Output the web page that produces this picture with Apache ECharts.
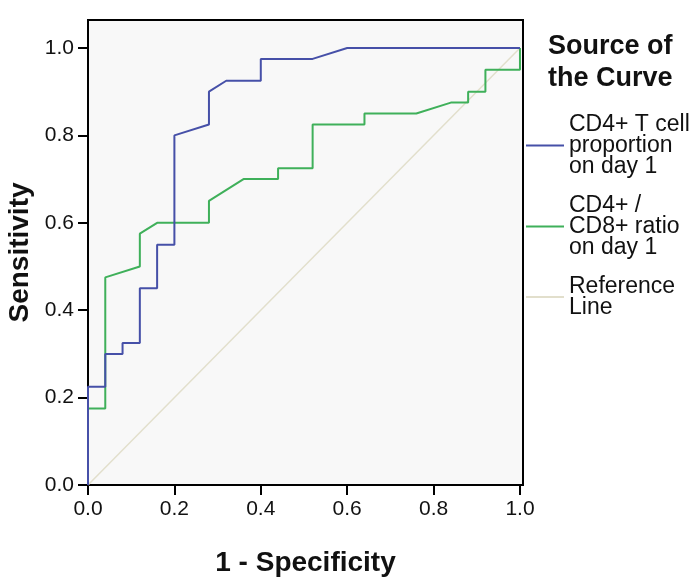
<!DOCTYPE html>
<html>
<head>
<meta charset="utf-8">
<script src="https://cdn.jsdelivr.net/npm/echarts@6/dist/echarts.min.js"></script>
<style>
html,body{margin:0;padding:0;background:#fff;}
#c{width:700px;height:585px;}
</style>
</head>
<body>
<div id="c"></div>
<script>
// ROC curve vertices [1 - specificity, sensitivity]
var cd4Proportion = [
  [0,0],[0,0.225],[0.04,0.225],[0.04,0.3],[0.08,0.3],[0.08,0.325],[0.12,0.325],
  [0.12,0.45],[0.16,0.45],[0.16,0.55],[0.2,0.55],[0.2,0.8],[0.28,0.825],[0.28,0.9],
  [0.32,0.925],[0.4,0.925],[0.4,0.975],[0.52,0.975],[0.6,1.0],[1,1]
];
var cd4cd8Ratio = [
  [0,0],[0,0.175],[0.04,0.175],[0.04,0.475],[0.12,0.5],[0.12,0.575],[0.16,0.6],
  [0.28,0.6],[0.28,0.65],[0.36,0.7],[0.44,0.7],[0.44,0.725],[0.52,0.725],[0.52,0.825],
  [0.64,0.825],[0.64,0.85],[0.76,0.85],[0.84,0.875],[0.88,0.875],[0.88,0.9],
  [0.92,0.9],[0.92,0.95],[1,0.95],[1,1]
];
var referenceLine = [[0,0],[1,1]];
var tickValues = [0, 0.2, 0.4, 0.6, 0.8, 1.0];
var seriesNames = ['CD4+ T cell\nproportion\non day 1', 'CD4+ /\nCD8+ ratio\non day 1', 'Reference\nLine'];
var legendTitle = 'Source of\nthe Curve';
var xTitle = '1 - Specificity';
var yTitle = 'Sensitivity';

var FONT = 'Liberation Sans, Arial, sans-serif';
var chart = echarts.init(document.getElementById('c'), null, {renderer: 'canvas'});

function axisCommon(name, gap, max) {
  return {
    type: 'value', min: 0, max: max,
    name: name, nameLocation: 'middle', nameGap: gap,
    nameTextStyle: {fontFamily: FONT, fontSize: 28, fontWeight: 'bold', color: '#111'},
    axisLine: {show: true, onZero: false, lineStyle: {color: '#000', width: 2}},
    axisTick: {show: true, inside: false, length: 10, lineStyle: {color: '#000', width: 2}, customValues: tickValues},
    axisLabel: {show: true, margin: 14, fontFamily: FONT, fontSize: 21, color: '#111',
      customValues: tickValues,
      formatter: function (v) { return v.toFixed(1); }},
    splitLine: {show: false}
  };
}

chart.setOption({
  animation: false,
  backgroundColor: '#ffffff',
  title: {
    text: legendTitle, left: 548, top: 31, padding: 0,
    textStyle: {fontFamily: FONT, fontSize: 27, fontWeight: 'bold', lineHeight: 32, color: '#111'}
  },
  legend: {
    orient: 'vertical', left: 526, top: 113, padding: 0,
    itemWidth: 38, itemHeight: 2, itemGap: 16,
    icon: 'rect',
    data: seriesNames,
    textStyle: {fontFamily: FONT, fontSize: 23, lineHeight: 21, color: '#111'},
    selectedMode: false
  },
  grid: {
    left: 88, right: 177, top: 20, bottom: 100,
    outerBoundsMode: 'none', containLabel: false,
    show: true, backgroundColor: '#f8f8f8', borderColor: '#000', borderWidth: 2
  },
  xAxis: axisCommon(xTitle, 64, 1.007),
  yAxis: axisCommon(yTitle, 54, 1.064),
  series: [
    {name: seriesNames[0], type: 'line', data: cd4Proportion, showSymbol: false,
     lineStyle: {color: '#4650a8', width: 2}, itemStyle: {color: '#4650a8'}, z: 4},
    {name: seriesNames[1], type: 'line', data: cd4cd8Ratio, showSymbol: false,
     lineStyle: {color: '#3fb05a', width: 2}, itemStyle: {color: '#3fb05a'}, z: 3},
    {name: seriesNames[2], type: 'line', data: referenceLine, showSymbol: false,
     lineStyle: {color: '#e2dfcc', width: 1.5}, itemStyle: {color: '#e2dfcc'}, z: 2}
  ]
});
</script>
</body>
</html>
